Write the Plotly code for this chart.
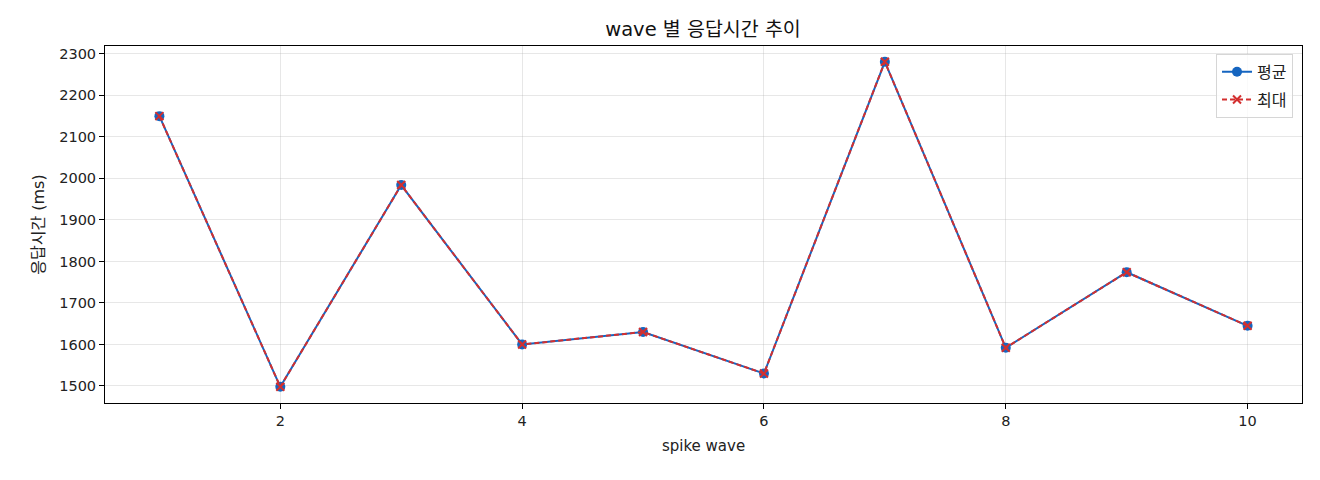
import plotly.graph_objects as go

waves = [1, 2, 3, 4, 5, 6, 7, 8, 9, 10]
avg_ms = [2150, 1498, 1984, 1600, 1630, 1530, 2281, 1592, 1774, 1645]
max_ms = [2150, 1498, 1984, 1600, 1630, 1530, 2281, 1592, 1774, 1645]
x_ticks = [2, 4, 6, 8, 10]
y_ticks = [1500, 1600, 1700, 1800, 1900, 2000, 2100, 2200, 2300]

FONT = "DejaVu Sans, Noto Sans CJK KR"
BLUE = "#1565C0"
RED = "#D32F2F"

W, H = 1312, 472  # page body adds an 8px offset

fig = go.Figure()
fig.add_trace(go.Scatter(
    x=waves, y=avg_ms, name="평균", mode="lines+markers", legendgroup="avg",
    line=dict(color=BLUE, width=2),
    marker=dict(symbol="circle", size=10, color=BLUE),
))
fig.add_trace(go.Scatter(
    x=waves, y=max_ms, name="최대", mode="lines+markers", legendgroup="max",
    line=dict(color=RED, width=2, dash="5px,3px"),
    marker=dict(symbol="x-thin", size=8, color=RED, line=dict(color=RED, width=2)),
))

axis_common = dict(
    showline=True, linecolor="black", linewidth=1, mirror=True,
    ticks="outside", ticklen=5, tickcolor="black", tickwidth=1,
    showgrid=True, gridcolor="rgba(176,176,176,0.3)", gridwidth=1,
    zeroline=False, tickfont=dict(family=FONT, size=14.5, color="#222"),
)

fig.update_layout(
    width=W, height=H,
    margin=dict(l=97, r=18, t=38, b=77),
    paper_bgcolor="white", plot_bgcolor="white",
    font=dict(family=FONT, size=14.5, color="#222"),
    title=dict(text="wave 별 응답시간 추이", x=(703 - 8) / W, xanchor="center",
               y=1 - 21 / H, yanchor="middle",
               font=dict(family=FONT, size=19.5, color="#111")),
    xaxis=dict(range=[0.55, 10.45], tickvals=x_ticks,
               title=dict(text="spike wave", font=dict(family=FONT, size=15), standoff=12),
               **axis_common),
    yaxis=dict(range=[1459, 2319], tickvals=y_ticks,
               title=dict(text="응답시간 (ms)", font=dict(family=FONT, size=16), standoff=10),
               **axis_common),
    legend=dict(x=0.9925, y=0.978, xanchor="right", yanchor="top",
                bgcolor="rgba(255,255,255,0.8)", bordercolor="#d6d6d6", borderwidth=1,
                tracegroupgap=4, font=dict(family=FONT, size=16)),
)

fig.write_html("out.html")
